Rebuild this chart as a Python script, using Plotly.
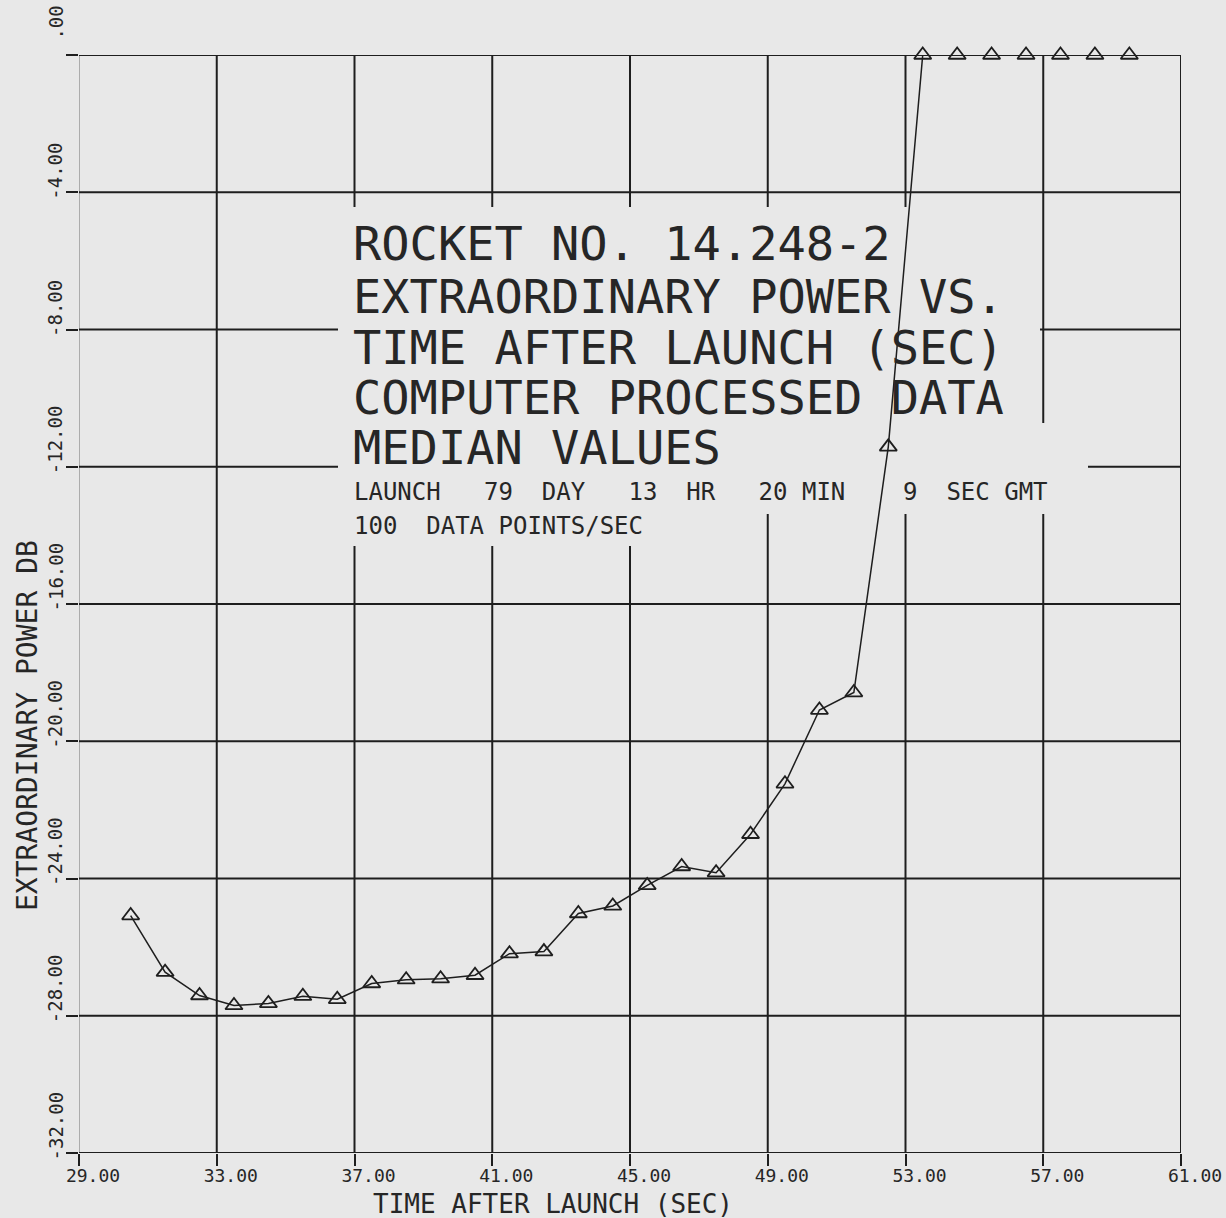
import plotly.graph_objects as go

# ---------------- data ----------------
time_sec = [30.5, 31.5, 32.5, 33.5, 34.5, 35.5, 36.5, 37.5, 38.5, 39.5,
            40.5, 41.5, 42.5, 43.5, 44.5, 45.5, 46.5, 47.5, 48.5, 49.5,
            50.5, 51.5, 52.5, 53.5, 54.5, 55.5, 56.5, 57.5, 58.5, 59.5]
power_db = [-25.08, -26.73, -27.41, -27.70, -27.64, -27.43, -27.52, -27.06, -26.95, -26.92,
            -26.82, -26.19, -26.13, -25.02, -24.80, -24.20, -23.65, -23.83, -22.71, -21.24,
            -19.09, -18.58, -11.42, 0.0, 0.0, 0.0, 0.0, 0.0, 0.0, 0.0]

xtick_vals = [29, 33, 37, 41, 45, 49, 53, 57, 61]
xtick_labels = ["29.00", "33.00", "37.00", "41.00", "45.00", "49.00", "53.00", "57.00", "61.00"]
ytick_vals = [0, -4, -8, -12, -16, -20, -24, -28, -32]
ytick_labels = ["\u00a0\u00a0.00", "-4.00", "-8.00", "-12.00", "-16.00", "-20.00", "-24.00", "-28.00", "-32.00"]

title_lines = ["ROCKET NO. 14.248-2",
               "EXTRAORDINARY POWER VS.",
               "TIME AFTER LAUNCH (SEC)",
               "COMPUTER PROCESSED DATA",
               "MEDIAN VALUES"]
info_lines = ["LAUNCH   79  DAY   13  HR   20 MIN    9  SEC GMT",
              "100  DATA POINTS/SEC"]
x_title = "TIME AFTER LAUNCH (SEC)"
y_title = "EXTRAORDINARY POWER DB"

# ---------------- style ----------------
PAPER = "#e8e8e8"
INK = "#1e1e1e"
TXT = "#262626"
FONT = "DejaVu Sans Mono"
W, H = 1226, 1218
L, R, T, B = 79, 1181, 55, 1153
XR = [29, 61]
YR = [-32, 0]


def px(x):
    return (x - L) / (R - L)


def py(y):
    return (B - y) / (B - T)


def dx(x):
    # pixel column -> x data value (for layout decorations)
    return XR[0] + px(x) * (XR[1] - XR[0])


def dy(y):
    return YR[0] + py(y) * (YR[1] - YR[0])


fig = go.Figure()
fig.add_trace(go.Scatter(
    x=time_sec, y=power_db, mode="lines+markers",
    line=dict(color=INK, width=1.5),
    marker=dict(symbol="triangle-up-open", size=15, color=INK,
                line=dict(color=INK, width=1.8)),
    cliponaxis=False, showlegend=False, hoverinfo="x+y"))

shapes = []
# grid lines (drawn as shapes so the title block can blank them out)
for xv in xtick_vals:
    left = xv == XR[0]
    shapes.append(dict(type="line", xref="x", yref="y", x0=xv, x1=xv, y0=YR[0], y1=YR[1],
                       line=dict(color="#8c8c8c" if left else INK, width=1.3 if left else 2),
                       layer="below"))
for yv in ytick_vals:
    shapes.append(dict(type="line", xref="x", yref="y", x0=XR[0], x1=XR[1], y0=yv, y1=yv,
                       line=dict(color=INK, width=2), layer="below"))

# blank areas behind the title block (grid hidden, data line still visible)
blank_boxes = [(338, 207, 1040, 423), (338, 423, 1088, 514), (338, 514, 652, 546)]
for x0, y0, x1, y1 in blank_boxes:
    shapes.append(dict(type="rect", xref="x", yref="y",
                       x0=dx(x0), x1=dx(x1), y0=dy(y1), y1=dy(y0),
                       fillcolor=PAPER, line=dict(width=0), layer="below"))

annotations = []
# title block
title_y = [244, 296, 347, 397, 448]
for txt, yc in zip(title_lines, title_y):
    annotations.append(dict(text=txt.replace(" ", "\u00a0"), xref="paper", yref="paper",
                            x=px(351), y=py(yc), xanchor="left", yanchor="middle",
                            showarrow=False, font=dict(family=FONT, size=47, color=TXT)))
info_y = [492, 526]
for txt, yc in zip(info_lines, info_y):
    annotations.append(dict(text=txt.replace(" ", "\u00a0"), xref="paper", yref="paper",
                            x=px(352), y=py(yc), xanchor="left", yanchor="middle",
                            showarrow=False, font=dict(family=FONT, size=24, color=TXT)))

# y tick labels (rotated, starting just below the tick)
for v, lab in zip(ytick_vals, ytick_labels):
    annotations.append(dict(text=lab, xref="paper", yref="y", x=px(55), y=v,
                            xanchor="center", yanchor="bottom", yshift=-10,
                            textangle=-90, showarrow=False,
                            font=dict(family=FONT, size=19, color=TXT)))

# axis titles
annotations.append(dict(text=x_title.replace(" ", "\u00a0"), xref="paper", yref="paper",
                        x=px(553), y=py(1204), xanchor="center", yanchor="middle",
                        showarrow=False, font=dict(family=FONT, size=26, color=TXT)))
annotations.append(dict(text=y_title.replace(" ", "\u00a0"), xref="paper", yref="paper",
                        x=px(27), y=py(726), xanchor="center", yanchor="middle",
                        textangle=-90, showarrow=False,
                        font=dict(family=FONT, size=28, color=TXT)))

fig.update_layout(
    width=W, height=H, autosize=False,
    margin=dict(l=L, r=W - R, t=T, b=H - B, pad=0, autoexpand=False),
    paper_bgcolor=PAPER, plot_bgcolor=PAPER,
    font=dict(family=FONT, color=TXT),
    shapes=shapes, annotations=annotations,
    xaxis=dict(range=XR, tickvals=xtick_vals, ticktext=xtick_labels,
               automargin=False,
               showgrid=False, zeroline=False, showline=False,
               ticks="outside", ticklen=12, tickwidth=2, tickcolor=INK,
               ticklabelshift=14, ticklabelstandoff=-6,
               tickfont=dict(family=FONT, size=18, color=TXT)),
    yaxis=dict(range=YR, tickvals=ytick_vals, showticklabels=False,
               automargin=False,
               showgrid=False, zeroline=False, showline=False,
               ticks="outside", ticklen=12, tickwidth=2, tickcolor=INK),
)

fig.write_html(
    "out.html",
    config={"displayModeBar": False},
    post_script="document.body.style.margin='0';"
                "document.body.style.background='%s';"
                "document.documentElement.style.background='%s';" % (PAPER, PAPER))
